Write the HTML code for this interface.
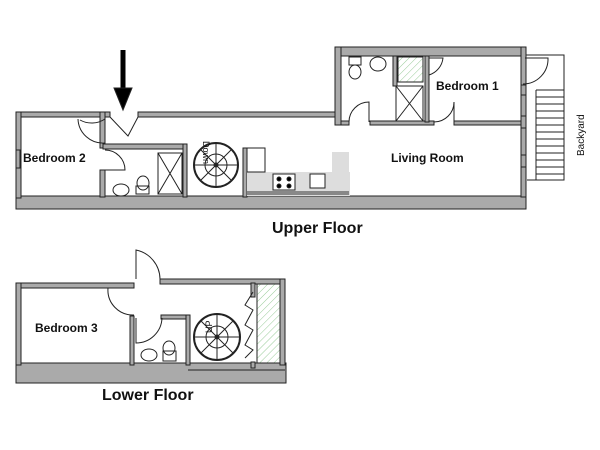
<!DOCTYPE html>
<html><head><style>body{margin:0;background:#fff}svg{display:block}text{font-family:"Liberation Sans",sans-serif;font-weight:bold;fill:#111}text.n{font-weight:normal}</style></head><body>
<svg width="600" height="450" viewBox="0 0 600 450" xmlns="http://www.w3.org/2000/svg">
<defs><pattern id="h" width="5" height="5" patternUnits="userSpaceOnUse" patternTransform="rotate(45)"><line x1="0" y1="0" x2="0" y2="5" stroke="#9c9" stroke-width="1"/></pattern></defs>
<g stroke="#222" stroke-width="1" fill="#aaa">
<rect x="16" y="196" width="510" height="13"/>
<rect x="16" y="112" width="94" height="5"/>
<rect x="138" y="112" width="200" height="5"/>
<rect x="16" y="112" width="5" height="86"/>
<rect x="335" y="47" width="190" height="9"/>
<rect x="335" y="47" width="6" height="78"/>
<rect x="521" y="47" width="5" height="150"/>
<rect x="341" y="121" width="8" height="4"/>
<rect x="370" y="121" width="64" height="4"/>
<rect x="454" y="121" width="67" height="4"/>
<rect x="425" y="56" width="4" height="66"/>
<rect x="393" y="56" width="4" height="30"/>
<rect x="100" y="112" width="5" height="36"/>
<rect x="103" y="144" width="83" height="5"/>
<rect x="100" y="170" width="5" height="27"/>
<rect x="183" y="144" width="4" height="53"/>
<rect x="243" y="148" width="4" height="49"/>
<rect x="16" y="363" width="270" height="20"/>
<rect x="16" y="283" width="118" height="5"/>
<rect x="16" y="283" width="5" height="82"/>
<rect x="160" y="279" width="125" height="5"/>
<rect x="280" y="279" width="5" height="86"/>
<rect x="130" y="316" width="4" height="49"/>
<rect x="161" y="315" width="29" height="4"/>
<rect x="186" y="315" width="4" height="50"/>
<rect x="251" y="283" width="4" height="14"/>
<rect x="251" y="362" width="4" height="6"/>
</g>
<g fill="none" stroke="#222" stroke-width="1">
<line x1="123" y1="50" x2="123" y2="92" stroke="#000" stroke-width="5"/>
<polygon points="114,88 132,88 123,110" fill="#000"/>
<path d="M110 117 L128 136 L138 117"/>
<path d="M105 119 A24 24 0 0 1 80 120 M105 143 A25 25 0 0 1 78 119"/>
<path d="M105 150 A20 20 0 0 1 125 170 L103 170"/>
<rect x="16" y="150" width="4" height="18" fill="#aaa"/>
<rect x="158" y="153" width="24" height="41"/><path d="M158 153 L182 194 M182 153 L158 194"/>
<ellipse cx="121" cy="190" rx="8" ry="6"/><rect x="136" y="186" width="13" height="8"/><ellipse cx="143" cy="183" rx="6" ry="7"/>
<circle cx="216" cy="165" r="22" stroke-width="2"/><circle cx="216" cy="165" r="11"/><circle cx="216" cy="165" r="2"/>
<path d="M194 165 H238 M216 143 V187 M200 149 L232 181 M232 149 L200 181"/>
<text class="n" x="0" y="0" font-size="9" transform="translate(203,141) rotate(90)" fill="#222" stroke="none">Down</text>
<rect x="247" y="172" width="103" height="24" fill="#ddd" stroke="none"/>
<rect x="332" y="152" width="17" height="22" fill="#ddd" stroke="none"/>
<rect x="247" y="148" width="18" height="24" fill="#fff"/>
<rect x="273" y="174" width="22" height="16" fill="#fff"/>
<circle cx="279" cy="179" r="2" fill="#000"/><circle cx="289" cy="179" r="2" fill="#000"/><circle cx="279" cy="186" r="2" fill="#000"/><circle cx="289" cy="186" r="2" fill="#000"/>
<rect x="310" y="174" width="15" height="14" fill="#fff"/>
<line x1="247" y1="193" x2="349" y2="193" stroke="#888" stroke-width="4"/>
<rect x="349" y="57" width="12" height="8"/><ellipse cx="355" cy="72" rx="6" ry="7"/><ellipse cx="378" cy="64" rx="8" ry="7"/>
<rect x="398" y="57" width="25" height="25" fill="url(#h)"/>
<rect x="396" y="86" width="27" height="35"/><path d="M396 86 L423 121 M423 86 L396 121"/>
<path d="M349 122 A20 20 0 0 1 369 102 V122 M434 122 A20 20 0 0 0 454 102 V122"/>
<path d="M429 58 H443 A20 20 0 0 1 429 75"/>
<path d="M525 58 H548 A25 25 0 0 1 523 84"/>
<rect x="521" y="85" width="5" height="10" fill="#aaa"/><rect x="521" y="116" width="5" height="12" fill="#aaa"/><rect x="521" y="155" width="5" height="12" fill="#aaa"/>
<path d="M526 55 H564 V180 H527 M536 90 H564 M536 90 V180"/>
<path d="M536 97 H564 M536 104 H564 M536 111 H564 M536 118 H564 M536 125 H564 M536 132 H564 M536 139 H564 M536 146 H564 M536 153 H564 M536 160 H564 M536 167 H564 M536 174 H564"/>
<path d="M136 279 V250 A30 30 0 0 1 160 279"/>
<path d="M134 288 H108 A25 25 0 0 0 134 315"/>
<path d="M136 318 V343 A26 26 0 0 0 162 318"/>
<ellipse cx="149" cy="355" rx="8" ry="6"/><rect x="163" y="351" width="13" height="10"/><ellipse cx="169" cy="348" rx="6" ry="7"/>
<circle cx="217" cy="337" r="23" stroke-width="2"/><circle cx="217" cy="337" r="11"/><circle cx="217" cy="337" r="2"/>
<path d="M194 337 H240 M217 314 V360 M201 321 L233 353 M233 321 L201 353"/>
<text class="n" x="0" y="0" font-size="9" transform="translate(212,333) rotate(-90)" fill="#222" stroke="none">UP</text>
<rect x="257" y="284" width="23" height="79" fill="url(#h)"/>
<path d="M253 292 L245 305 L253 310 L245 325 L253 330 L245 345 L253 350 L245 358"/>
<line x1="188" y1="370" x2="285" y2="370"/>
</g>
<text x="23" y="162" font-size="12">Bedroom 2</text>
<text x="436" y="90" font-size="12">Bedroom 1</text>
<text x="391" y="162" font-size="12">Living Room</text>
<text x="35" y="332" font-size="12">Bedroom 3</text>
<text x="272" y="233" font-size="16">Upper Floor</text>
<text x="102" y="400" font-size="16">Lower Floor</text>
<text class="n" x="0" y="0" font-size="10" transform="translate(584,156) rotate(-90)">Backyard</text>
</svg>
</body></html>
